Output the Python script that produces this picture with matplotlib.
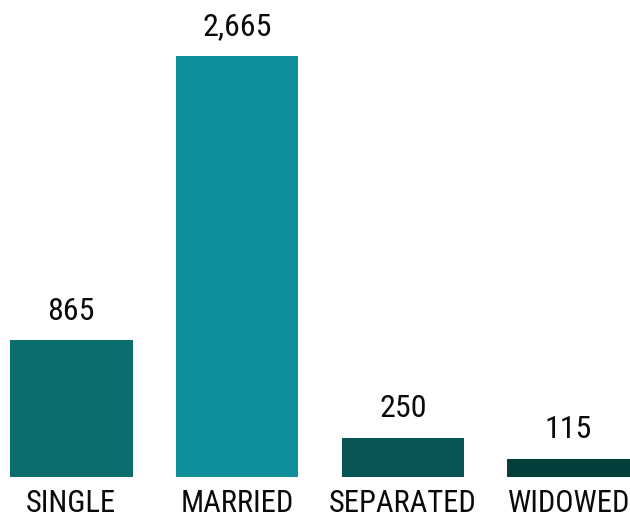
import matplotlib
matplotlib.use('Agg')
import matplotlib.pyplot as plt

# marital status counts
categories = ['SINGLE', 'MARRIED', 'SEPARATED', 'WIDOWED']
counts = [865, 2665, 250, 115]
bar_colors = ['#0b6d6e', '#0e909b', '#075655', '#043f3b']

plt.rcParams['font.family'] = ['Roboto Condensed', 'Archivo Narrow', 'Roboto', 'DejaVu Sans']


def main():
    fig = plt.figure(figsize=(6.3, 5.2), dpi=100)
    ax = fig.add_axes([0, 43 / 520, 1, 421 / 520])

    x = range(len(categories))
    bars = ax.bar(x, counts, width=0.74, color=bar_colors)

    ax.set_xlim(-0.43, 3.37)
    ax.set_ylim(0, max(counts))

    # value above each bar
    for bar, val in zip(bars, counts):
        ax.annotate(f'{val:,}', (bar.get_x() + bar.get_width() / 2, val),
                    xytext=(0, 15), textcoords='offset points',
                    ha='center', va='baseline', fontsize=23, color='#0a0a0a')

    # category names under the bars
    for xi, name in zip(x, categories):
        ax.annotate(name, (xi, 0), xytext=(0, -25), textcoords='offset points',
                    ha='center', va='baseline', fontsize=22, color='#0a0a0a')

    ax.axis('off')
    fig.savefig('out.png', dpi=100)


if __name__ == '__main__':
    main()
